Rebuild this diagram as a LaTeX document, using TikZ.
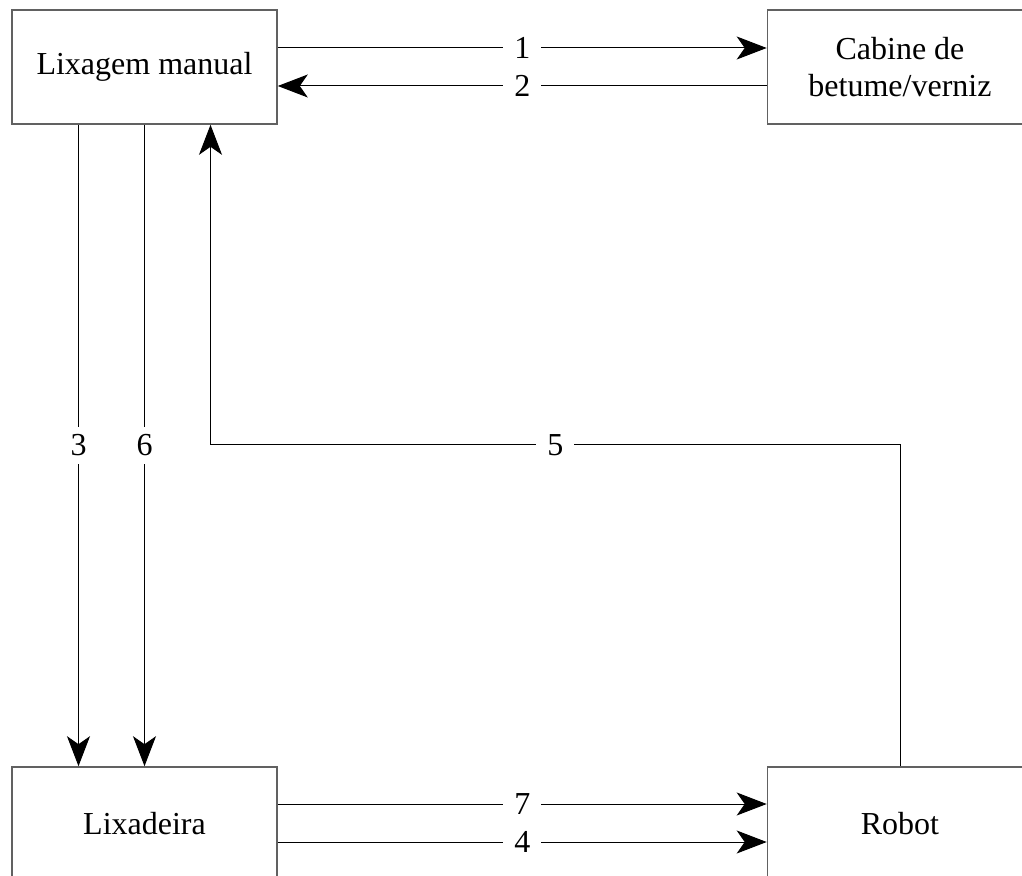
\documentclass[tikz,border=0pt]{standalone}
\usepackage{fontspec}
\setmainfont{Liberation Serif}
\usetikzlibrary{arrows.meta,
                positioning}

\begin{document}
\begin{tikzpicture}[x=0.5pt, y=-0.5pt,
  BOX/.style = {draw=black!62, line width=0.8pt,
                minimum width=132.5pt, minimum height=57pt,
                align=center, inner sep=0pt,
                font=\fontsize{16}{18.5}\selectfont},
 flow/.style = {draw=black, line width=0.5pt,
                -{Stealth[length=15pt, width=11.5pt, inset=4pt]}},
  lbl/.style = {fill=white, inner xsep=5.5pt, inner ysep=4pt,
                font=\fontsize{16}{18.5}\selectfont}
                        ]
\path[use as bounding box, clip] (0,0) rectangle (1022,876);
% boxes
\node[BOX] (lm)  at (144.5,67)  {Lixagem manual};
\node[BOX] (cab) at (900,67)    {Cabine de\\betume/verniz};
\node[BOX] (lx)  at (144.5,824) {Lixadeira};
\node[BOX] (rb)  at (900,824)   {Robot};
% helper points
\coordinate (mid) at (523,445);
\coordinate (d3)  at ([xshift=-33pt]lm.south);
\coordinate (u5)  at ([xshift=33pt]lm.south);
% top pair
\draw[flow] ([yshift=9.5pt]lm.east) -- node[lbl]{1} ([yshift=9.5pt]lm.east -| cab.west);
\draw[flow] ([yshift=-9.5pt]cab.west) -- node[lbl]{2} ([yshift=-9.5pt]cab.west -| lm.east);
% down to Lixadeira
\draw[flow] (d3) -- node[lbl]{3} (d3 |- lx.north);
\draw[flow] (lm.south) -- node[lbl]{6} (lx.north);
% back from Robot
\draw[flow] (rb.north) |- node[lbl, pos=0.75]{5} (u5 |- mid) -- (u5);
% bottom pair
\draw[flow] ([yshift=10pt]lx.east) -- node[lbl]{7} ([yshift=10pt]lx.east -| rb.west);
\draw[flow] ([yshift=-9pt]lx.east) -- node[lbl]{4} ([yshift=-9pt]lx.east -| rb.west);
\end{tikzpicture}
\end{document}
